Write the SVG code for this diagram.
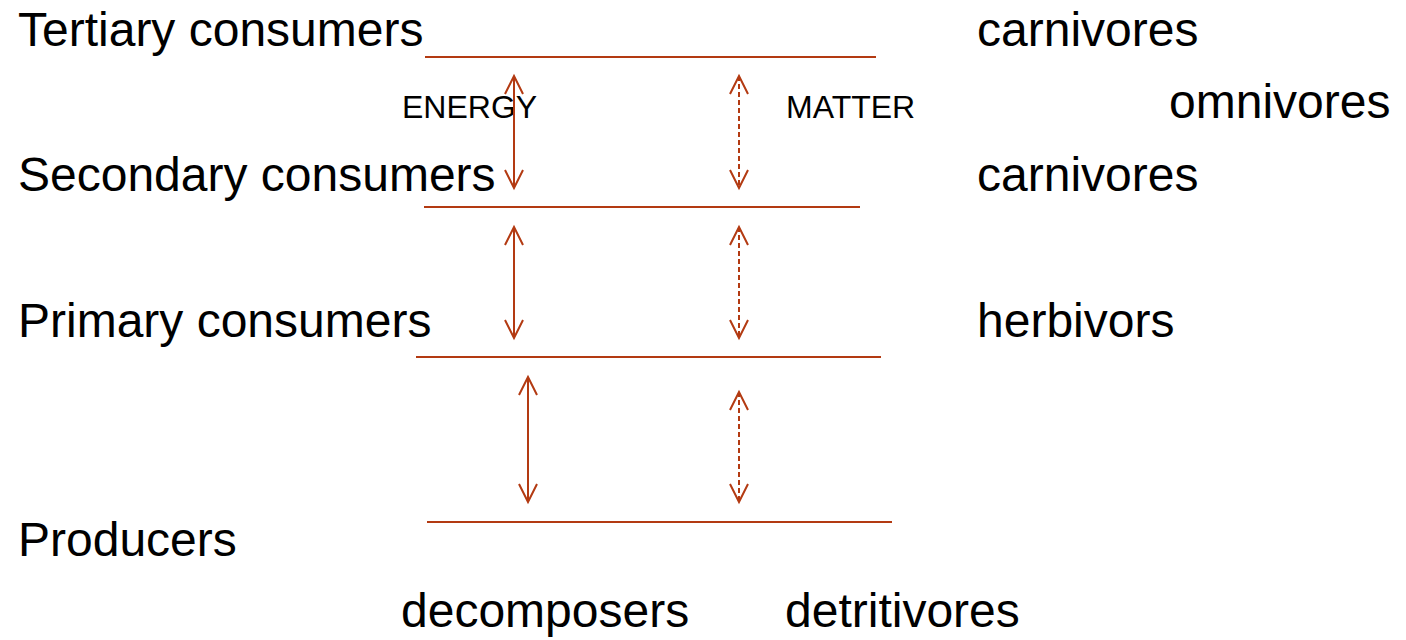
<svg xmlns="http://www.w3.org/2000/svg" width="1406" height="640" viewBox="0 0 1406 640">
<defs>
<style>
.big{font-family:"Liberation Sans",Arial,sans-serif;font-size:48px;fill:#000}
.small{font-family:"Liberation Sans",Arial,sans-serif;font-size:32px;fill:#000}
.lvl{stroke:#B33A12;stroke-width:2;fill:none}
.en{stroke:#B33A12;stroke-width:2;fill:none;marker-start:url(#ah);marker-end:url(#ah)}
.mt{stroke:#B33A12;stroke-width:2;fill:none;stroke-dasharray:5 3;marker-start:url(#ah);marker-end:url(#ah)}
</style>
<marker id="ah" markerUnits="userSpaceOnUse" markerWidth="22" markerHeight="22" viewBox="0 0 22 22" refX="19" refY="11" orient="auto-start-reverse">
<path d="M1,2 L19,11 L1,20" fill="none" stroke="#B33A12" stroke-width="2"/>
</marker>
</defs>
<rect width="1406" height="640" fill="#fff"/>
<g id="tertiary"><text class="big" x="18" y="46">Tertiary consumers</text></g>
<g id="carnivores-top"><text class="big" x="977" y="46">carnivores</text></g>
<g id="omnivores"><text class="big" x="1169" y="118">omnivores</text></g>
<g id="secondary"><text class="big" x="18" y="191">Secondary consumers</text></g>
<g id="carnivores-mid"><text class="big" x="977" y="191">carnivores</text></g>
<g id="primary"><text class="big" x="18" y="337">Primary consumers</text></g>
<g id="herbivors"><text class="big" x="977" y="337">herbivors</text></g>
<g id="producers"><text class="big" x="18" y="556">Producers</text></g>
<g id="decomposers"><text class="big" x="401" y="627">decomposers</text></g>
<g id="detritivores"><text class="big" x="785" y="627">detritivores</text></g>
<g id="energy-label"><text class="small" x="402" y="118">ENERGY</text></g>
<g id="matter-label"><text class="small" x="786" y="118">MATTER</text></g>
<g id="levels">
<line class="lvl" x1="425" y1="57" x2="876" y2="57"/>
<line class="lvl" x1="424" y1="207" x2="860" y2="207"/>
<line class="lvl" x1="416" y1="357" x2="881" y2="357"/>
<line class="lvl" x1="427" y1="522" x2="892" y2="522"/>
</g>
<g id="connectors">
<line class="en" x1="514" y1="76" x2="514" y2="188"/>
<line class="en" x1="514" y1="227" x2="514" y2="338"/>
<line class="en" x1="528" y1="377" x2="528" y2="502"/>
<line class="mt" x1="739" y1="76" x2="739" y2="188"/>
<line class="mt" x1="739" y1="227" x2="739" y2="338"/>
<line class="mt" x1="739" y1="392" x2="739" y2="502"/>
</g>
</svg>
